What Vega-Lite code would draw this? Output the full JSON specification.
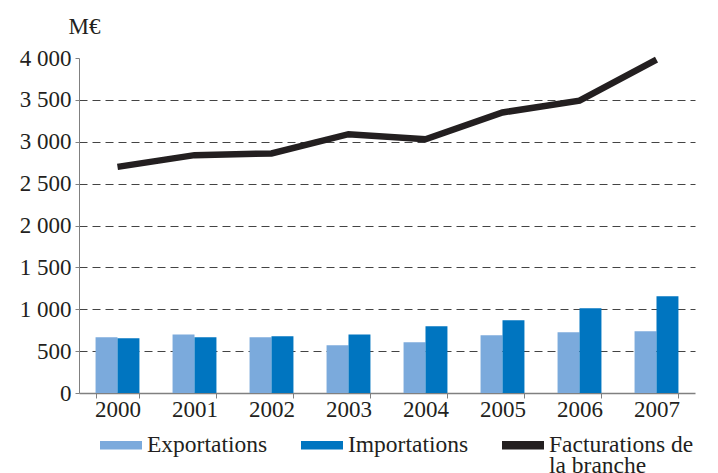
{
  "$schema": "https://vega.github.io/schema/vega-lite/v6.json",
  "width": 616,
  "height": 335,
  "autosize": {"type": "none"},
  "padding": {"left": 79, "top": 58, "right": 23, "bottom": 80},
  "background": "white",
  "config": {
    "font": "Liberation Serif",
    "view": {"stroke": null},
    "locale": {"number": {"decimal": ",", "thousands": " ", "grouping": [3], "currency": ["", " €"]}},
    "axis": {"labelFont": "Liberation Serif", "labelColor": "#231f20", "labelFontSize": 23, "domainColor": "#808080", "tickColor": "#808080"},
    "legend": {"padding": 0},
    "style": {"guide-label": {"font": "Liberation Serif", "lineHeight": 21}}
  },
  "data": {
    "values": [
      {"annee": "2000", "serie": "Exportations", "valeur": 665},
      {"annee": "2001", "serie": "Exportations", "valeur": 700},
      {"annee": "2002", "serie": "Exportations", "valeur": 665},
      {"annee": "2003", "serie": "Exportations", "valeur": 570},
      {"annee": "2004", "serie": "Exportations", "valeur": 605},
      {"annee": "2005", "serie": "Exportations", "valeur": 689},
      {"annee": "2006", "serie": "Exportations", "valeur": 725},
      {"annee": "2007", "serie": "Exportations", "valeur": 737},
      {"annee": "2000", "serie": "Importations", "valeur": 655},
      {"annee": "2001", "serie": "Importations", "valeur": 665},
      {"annee": "2002", "serie": "Importations", "valeur": 677},
      {"annee": "2003", "serie": "Importations", "valeur": 700},
      {"annee": "2004", "serie": "Importations", "valeur": 796},
      {"annee": "2005", "serie": "Importations", "valeur": 868},
      {"annee": "2006", "serie": "Importations", "valeur": 1011},
      {"annee": "2007", "serie": "Importations", "valeur": 1155},
      {"annee": "2000", "serie": "Facturations de la branche", "valeur": 2700},
      {"annee": "2001", "serie": "Facturations de la branche", "valeur": 2840},
      {"annee": "2002", "serie": "Facturations de la branche", "valeur": 2860},
      {"annee": "2003", "serie": "Facturations de la branche", "valeur": 3090},
      {"annee": "2004", "serie": "Facturations de la branche", "valeur": 3030},
      {"annee": "2005", "serie": "Facturations de la branche", "valeur": 3350},
      {"annee": "2006", "serie": "Facturations de la branche", "valeur": 3490},
      {"annee": "2007", "serie": "Facturations de la branche", "valeur": 3980}
    ]
  },
  "layer": [
    {
      "transform": [{"filter": "datum.serie !== 'Facturations de la branche'"}],
      "mark": {"type": "bar"},
      "encoding": {
        "x": {
          "field": "annee", "type": "nominal",
          "scale": {"paddingInner": 0.43, "paddingOuter": 0.215},
          "axis": {"title": null, "tickBand": "extent", "tickSize": 5, "labelPadding": 0, "domainWidth": 1.5, "labelAngle": 0, "grid": false, "labelFont": "Liberation Serif", "labelFontSize": 23}
        },
        "xOffset": {"field": "serie", "type": "nominal", "scale": {"domain": ["Exportations", "Importations"]}},
        "y": {
          "field": "valeur", "type": "quantitative",
          "scale": {"domain": [0, 4000], "nice": false},
          "axis": {
            "title": "M€", "titleAngle": 0, "titleAlign": "left", "titleBaseline": "alphabetic",
            "titleX": -11, "titleY": -25, "titleFont": "Liberation Serif", "titleFontSize": 23,
            "titleFontWeight": "normal", "titleColor": "#231f20",
            "labelFont": "Liberation Serif", "labelFontSize": 23,
            "values": [0, 500, 1000, 1500, 2000, 2500, 3000, 3500, 4000],
            "format": ",d", "tickSize": 4, "labelPadding": 4,
            "grid": true, "gridDash": [8, 5], "gridColor": "#444444",
            "gridOpacity": {"condition": {"test": "datum.value >= 4000 || datum.value <= 0", "value": 0}, "value": 1}
          }
        },
        "color": {
          "field": "serie", "type": "nominal",
          "scale": {"domain": ["Exportations", "Importations", "Facturations de la branche"], "range": ["#7baadc", "#0075c0", "#231f20"]},
          "legend": {
            "title": null, "orient": "none", "legendX": 21, "legendY": 366,
            "direction": "horizontal", "columns": 3,
            "symbolType": "M-1,-0.2H1V0.2H-1Z", "symbolSize": 1764, "symbolStrokeWidth": 0,
            "labelFontSize": 23.5, "labelFont": "Liberation Serif", "labelColor": "#231f20",
            "labelOffset": 5, "columnPadding": 33, "labelLimit": 300,
            "labelExpr": "datum.label == 'Facturations de la branche' ? ['Facturations de', 'la branche'] : [datum.label, '']"
          }
        }
      }
    },
    {
      "transform": [{"filter": "datum.serie === 'Facturations de la branche'"}],
      "mark": {"type": "line", "strokeWidth": 6.5, "strokeCap": "butt"},
      "encoding": {
        "x": {"field": "annee", "type": "nominal"},
        "y": {"field": "valeur", "type": "quantitative"},
        "color": {"field": "serie", "type": "nominal"}
      }
    }
  ]
}
